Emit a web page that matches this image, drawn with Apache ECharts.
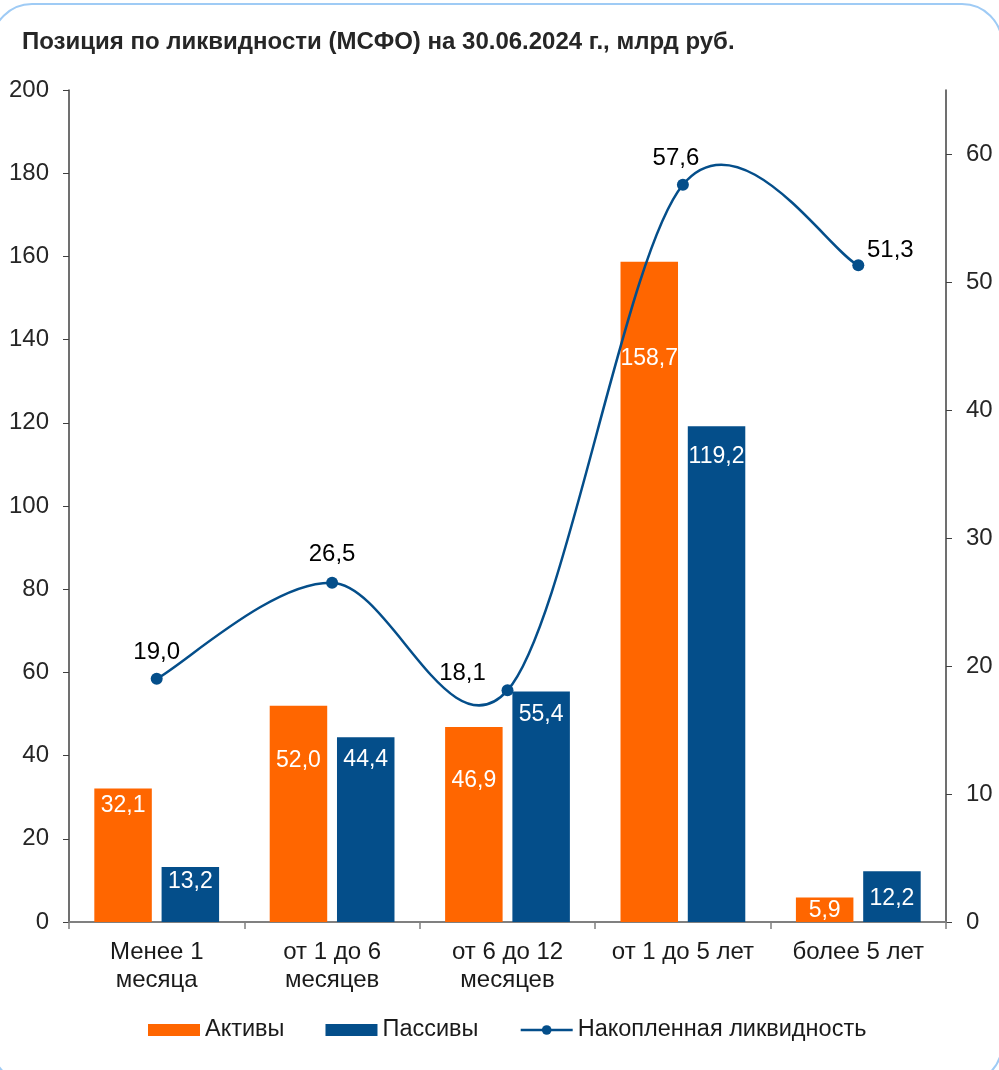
<!DOCTYPE html>
<html>
<head>
<meta charset="utf-8">
<script src="https://cdn.jsdelivr.net/npm/echarts@6/dist/echarts.min.js"></script>
<style>
html,body{margin:0;padding:0;background:#fff;}
#chart{width:999px;height:1070px;}
</style>
</head>
<body>
<div id="chart"></div>
<script>
const titleText = 'Позиция по ликвидности (МСФО) на 30.06.2024 г., млрд руб.';
const categories = ['Менее 1\nмесяца', 'от 1 до 6\nмесяцев', 'от 6 до 12\nмесяцев', 'от 1 до 5 лет', 'более 5 лет'];
const assets = [32.1, 52.0, 46.9, 158.7, 5.9];
const liabilities = [13.2, 44.4, 55.4, 119.2, 12.2];
const cumulative = [19.0, 26.5, 18.1, 57.6, 51.3];
const seriesNames = ['Активы', 'Пассивы', 'Накопленная ликвидность'];
const leftTicks = {min: 0, max: 200, interval: 20};
const rightTicks = {min: 0, max: 65, interval: 10};

// label placement tweaks (style, not data)
const assetLabelDy = [1, 38, 37, 80, -3];
const liabLabelDy = [-2, 6, 7, 14, 11];
const lineLabelOffsets = [[0, -3], [0, -5], [-45, 6], [-7, -3], [32, 8]];

const ORANGE = '#FF6600';
const BLUE = '#044E8A';
const FONT = '"Liberation Sans", Arial, sans-serif';

const fmt = v => v.toFixed(1).replace('.', ',');

// Excel-like smooth curve (Bezier with 1/6 tangents) drawn through the axis scales
function renderCurve(params, api) {
  const i = params.dataIndex;
  const n = cumulative.length;
  if (i >= n - 1) return null;
  const clamp = k => Math.max(0, Math.min(n - 1, k));
  const pt = k => api.coord([clamp(k), cumulative[clamp(k)]]);
  const p0 = pt(i - 1), p1 = pt(i), p2 = pt(i + 1), p3 = pt(i + 2);
  return {
    type: 'bezierCurve',
    shape: {
      x1: p1[0], y1: p1[1], x2: p2[0], y2: p2[1],
      cpx1: p1[0] + (p2[0] - p0[0]) / 6, cpy1: p1[1] + (p2[1] - p0[1]) / 6,
      cpx2: p2[0] - (p3[0] - p1[0]) / 6, cpy2: p2[1] - (p3[1] - p1[1]) / 6
    },
    style: {stroke: BLUE, lineWidth: 2.5, fill: 'none'},
    silent: true
  };
}

const chart = echarts.init(document.getElementById('chart'), null, {renderer: 'canvas'});
chart.setOption({
  animation: false,
  backgroundColor: '#fff',
  textStyle: {fontFamily: FONT},
  title: {
    text: titleText,
    left: 17, top: 25,
    textStyle: {fontFamily: FONT, fontSize: 24, fontWeight: 'bold', color: '#262626'}
  },
  graphic: [{
    type: 'rect', silent: true, z: -1,
    shape: {x: -8, y: 4, width: 1010, height: 1080, r: 40},
    style: {fill: 'none', stroke: '#9FCBF5', lineWidth: 2}
  }],
  legend: {
    bottom: 23, left: 143,
    itemWidth: 52, itemHeight: 12, itemGap: 41,
    textStyle: {fontFamily: FONT, fontSize: 23.5, color: '#1a1a1a'},
    data: [{name: seriesNames[0], icon: 'rect'}, {name: seriesNames[1], icon: 'rect'},
      {name: seriesNames[2], lineStyle: {color: BLUE, width: 2.5, opacity: 1}}]
  },
  grid: {left: 69, right: 53, top: 90, bottom: 148, containLabel: false},
  xAxis: {
    type: 'category',
    data: categories,
    axisLine: {lineStyle: {color: '#808080', width: 2}},
    axisTick: {show: true, length: 7, lineStyle: {color: '#808080', width: 1.5}},
    axisLabel: {fontFamily: FONT, fontSize: 24, color: '#1a1a1a', lineHeight: 28, margin: 16, interval: 0}
  },
  yAxis: [{
    type: 'value', min: leftTicks.min, max: leftTicks.max, interval: leftTicks.interval,
    axisLine: {show: true, lineStyle: {color: '#404040', width: 1.5}},
    axisTick: {show: true, length: 6, lineStyle: {color: '#404040'}},
    splitLine: {show: false},
    axisLabel: {fontFamily: FONT, fontSize: 24, color: '#262626', margin: 20}
  }, {
    type: 'value', min: rightTicks.min, max: rightTicks.max, interval: rightTicks.interval,
    position: 'right',
    axisLine: {show: true, lineStyle: {color: '#404040', width: 1.5}},
    axisTick: {show: true, length: 6, lineStyle: {color: '#404040'}},
    splitLine: {show: false},
    axisLabel: {fontFamily: FONT, fontSize: 24, color: '#262626', margin: 20, showMaxLabel: false}
  }],
  series: [{
    name: seriesNames[0], type: 'bar', yAxisIndex: 0,
    barWidth: 57.5, barGap: '17%',
    itemStyle: {color: ORANGE},
    data: assets.map((v, i) => ({value: v, label: {offset: [0, assetLabelDy[i]]}})),
    label: {show: true, position: 'insideTop', color: '#fff', fontSize: 23, fontFamily: FONT,
      formatter: p => fmt(p.value)},
    z: 2
  }, {
    name: seriesNames[1], type: 'bar', yAxisIndex: 0,
    barWidth: 57.5,
    itemStyle: {color: BLUE},
    data: liabilities.map((v, i) => ({value: v, label: {offset: [0, liabLabelDy[i]]}})),
    label: {show: true, position: 'insideTop', color: '#fff', fontSize: 23, fontFamily: FONT,
      formatter: p => fmt(p.value)},
    z: 2
  }, {
    name: 'curve', type: 'custom', yAxisIndex: 1,
    renderItem: renderCurve,
    data: cumulative.map((v, i) => [i, v]),
    encode: {x: 0, y: 1},
    silent: true,
    z: 4
  }, {
    name: seriesNames[2], type: 'line', yAxisIndex: 1,
    symbol: 'circle', symbolSize: 12,
    lineStyle: {color: BLUE, width: 2.5, opacity: 0},
    itemStyle: {color: BLUE},
    data: cumulative.map((v, i) => ({value: v, label: {offset: lineLabelOffsets[i]}})),
    label: {show: true, position: 'top', color: '#000', fontSize: 24, fontFamily: FONT,
      formatter: p => fmt(p.value)},
    z: 5
  }]
});
</script>
</body>
</html>
